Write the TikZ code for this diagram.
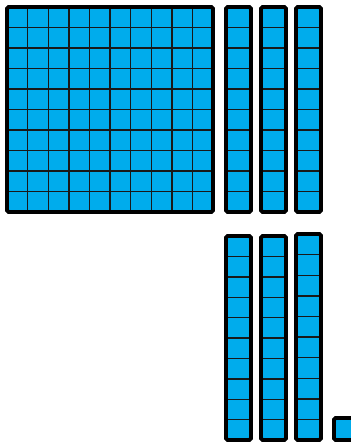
\documentclass[tikz,border=0pt]{standalone}
\usepackage{tikz}
\definecolor{blockblue}{RGB}{0, 172, 236}

\begin{document}
\begin{tikzpicture}[x=0.5pt, y=-0.5pt,
    cell/.style={draw=black!90, line width=0.7pt},
    rim/.style={draw=black, line width=1.9pt, rounded corners=0.8pt},
    piece/.style={fill=blockblue}
]
    \clip (0,0) rectangle (351,442);
    % hundred flat
    \fill[piece] (7,7) rectangle (213,212);
    \foreach \i in {1,...,9} {
        \draw[cell] ({7+\i*20.6},7) -- ({7+\i*20.6},212);
        \draw[cell] (7,{7+\i*20.5}) -- (213,{7+\i*20.5});
    }
    \draw[rim] (7,7) rectangle (213,212);
    % tens rods, top row
    \foreach \x in {226,261,296} {
        \fill[piece] (\x,7) rectangle (\x+25,212);
        \foreach \i in {1,...,9}
            \draw[cell] (\x,{7+\i*20.5}) -- (\x+25,{7+\i*20.5});
        \draw[rim] (\x,7) rectangle (\x+25,212);
    }
    % tens rods, bottom row
    \foreach \x/\t in {226/236,261/236,296/234} {
        \fill[piece] (\x,\t) rectangle (\x+25,440);
        \foreach \i in {1,...,9}
            \draw[cell] (\x,{\t+\i*(440-\t)/10}) -- (\x+25,{\t+\i*(440-\t)/10});
        \draw[rim] (\x,\t) rectangle (\x+25,440);
    }
    % one unit
    \fill[piece] (334,418) rectangle (357,440);
    \draw[rim] (334,418) rectangle (357,440);
\end{tikzpicture}
\end{document}
